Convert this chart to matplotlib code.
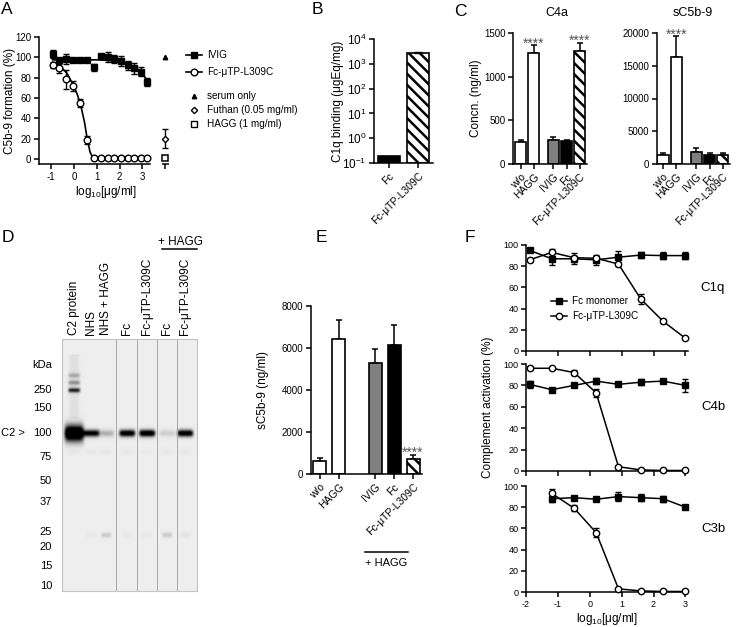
import matplotlib
matplotlib.use('Agg')
import matplotlib.pyplot as plt
from matplotlib.lines import Line2D
import numpy as np

plt.rcParams['font.family'] = ['Liberation Sans', 'DejaVu Sans']
plt.rcParams['font.size'] = 7
plt.rcParams['mathtext.fontset'] = 'custom'
plt.rcParams['mathtext.rm'] = 'Liberation Sans'
plt.rcParams['mathtext.it'] = 'Liberation Sans'
plt.rcParams['axes.unicode_minus'] = False
plt.rcParams['axes.linewidth'] = 1.1
plt.rcParams['xtick.major.width'] = 1.1
plt.rcParams['ytick.major.width'] = 1.1
plt.rcParams['xtick.major.size'] = 3.5
plt.rcParams['ytick.major.size'] = 3.5
plt.rcParams['xtick.major.pad'] = 2
plt.rcParams['ytick.major.pad'] = 2
plt.rcParams['hatch.linewidth'] = 1.8

MU = '\u03bc'
FCMU = 'Fc-' + MU + 'TP-L309C'
LOGX = r'log$_{\mathregular{10}}$[' + MU + 'g/ml]'
LAB = 8.5   # axis label size

# ---------------- data ----------------
# A: C5b-9 formation (%) vs log10 concentration
a_x = [-0.94, -0.64, -0.34, -0.04, 0.26, 0.57, 0.87, 1.17, 1.47, 1.77, 2.07, 2.37, 2.64, 2.93, 3.22]
ivig_pct = [103, 97, 98.5, 97, 97.5, 97, 90, 101, 100, 98, 96, 92, 89, 86, 76]
ivig_err = [4, 2, 5, 1, 2, 1, 3, 2, 5, 4, 5, 4, 5, 4, 4]
fcmu_pct = [92.5, 89, 78.5, 72, 55, 19, 0.7, 0.5, 0.5, 0.5, 0.5, 0.5, 0.5, 0.5, 0.5]
fcmu_err = [3, 4, 9.5, 5, 4, 4, 1, 0, 0, 0, 0, 0, 0, 0, 0]
ivig_fit_x = [-0.94, 1.0, 1.5, 2.0, 2.4, 2.7, 3.0, 3.22]
ivig_fit_y = [97.5, 97.5, 97, 96, 93.5, 90, 84, 77]
fcmu_fit_x = [-0.94, -0.6, -0.3, 0.0, 0.15, 0.3, 0.45, 0.6, 0.7, 0.8, 0.9, 3.22]
fcmu_fit_y = [95, 91, 84, 71, 63, 52, 37, 17, 7, 2, 0, 0]
serum_only = 100
futhan, futhan_err = 20, 9
hagg_ctrl = 1

# B: C1q binding
b_labels = ['Fc', FCMU]
b_vals = [0.19, 2800]
b_err = [0, 150]

# C: C4a and sC5b-9 (ng/ml)
c_labels = ['w/o', 'HAGG', 'IVIG', 'Fc', FCMU]
c4a_vals = [250, 1270, 280, 260, 1290]
c4a_err = [25, 90, 30, 20, 95]
c4a_sig = ['', '****', '', '', '****']
sc5b9_vals = [1400, 16300, 1900, 1400, 1400]
sc5b9_err = [300, 3200, 500, 250, 300]
sc5b9_sig = ['', '****', '', '', '']

# D: western blot of C2
gel_lanes = ['C2 protein', 'NHS', 'NHS + HAGG', 'Fc', FCMU, 'Fc', FCMU]
kda_marks = [250, 150, 100, 75, 50, 37, 25, 20, 15, 10]
kda_rows = [51, 69, 94, 118, 142, 163, 193, 208, 227, 247]   # migration in the gel
band_c2 = [1.0, 0.85, 0.2, 0.9, 0.95, 0.1, 0.9]              # 100 kDa C2 band
band_80 = [0.03, 0.03, 0.03, 0.03, 0.02, 0.03, 0.03]
band_24 = [0.0, 0.03, 0.15, 0.03, 0.03, 0.15, 0.04]
c2_extra_kda = [250, 310, 380]
c2_extra_int = [0.85, 0.35, 0.25]

# E: sC5b-9 (ng/ml)
e_labels = ['w/o', 'HAGG', 'IVIG', 'Fc', FCMU]
e_vals = [620, 6450, 5280, 6150, 720]
e_err = [130, 870, 650, 930, 200]
e_sig = ['', '', '', '', '****']

# F: complement activation (%)
f_x = [-1.89, -1.19, -0.49, 0.2, 0.9, 1.6, 2.3, 3.0]
c1q_fc = [95, 87, 87, 86, 88.5, 90.5, 90, 90]
c1q_fc_err = [1, 6, 5, 5, 6, 3, 3, 3]
c1q_mu = [86, 93, 88, 87.5, 82, 49, 28, 12]
c1q_mu_err = [2, 3, 2, 2, 2, 5, 2, 1]
c4b_fc = [81, 76, 80, 84, 81, 83, 84, 80]
c4b_fc_err = [3, 1, 1, 3, 2, 3, 2, 6]
c4b_mu = [96, 96, 92, 73, 4, 1, 0.5, 0.5]
c4b_mu_err = [2, 1, 2, 4, 1, 0, 0, 0]
c3b_x = f_x[1:]
c3b_fc = [88, 89, 87.5, 90, 89, 88, 80]
c3b_fc_err = [3, 1, 1, 4, 3, 3, 1]
c3b_mu = [93, 79, 56, 3, 1, 0.5, 0.5]
c3b_mu_err = [4, 3, 4, 1, 0, 0, 0]

# ---------------- layout helpers ----------------
W, H = 744, 627
fig = plt.figure(figsize=(W / 100, H / 100), dpi=100)


def box(x0, y0, x1, y1):
    return fig.add_axes([x0 / W, 1 - y1 / H, (x1 - x0) / W, (y1 - y0) / H])


def ftext(x, y, s, **kw):
    return fig.text(x / W, 1 - y / H, s, **kw)


def fline(x0, x1, y, lw=1.1):
    fig.add_artist(Line2D([x0 / W, x1 / W], [1 - y / H] * 2, color='k', lw=lw))


def clean(ax):
    ax.spines['top'].set_visible(False)
    ax.spines['right'].set_visible(False)


for letter, x, y in [('A', 7, 10), ('B', 317, 10), ('C', 460, 11),
                     ('D', 8, 237), ('E', 321, 237), ('F', 470, 237)]:
    ftext(x, y, letter, fontsize=12.5, ha='center', va='center')

# ---------------- A ----------------
ax = box(39, 37, 172, 164)
clean(ax)
ax.plot(ivig_fit_x, ivig_fit_y, color='k', lw=1.2, zorder=2)
ax.plot(fcmu_fit_x, fcmu_fit_y, color='k', lw=1.2, zorder=2)
ax.errorbar(a_x, ivig_pct, yerr=ivig_err, fmt='s', color='k', ms=4.2,
            capsize=2, elinewidth=1, capthick=1, zorder=3)
ax.errorbar(a_x, fcmu_pct, yerr=fcmu_err, fmt='o', color='k', mfc='white',
            mec='k', mew=1, ms=4.8, capsize=2, elinewidth=1, capthick=1, zorder=4)
ax.plot([4], [serum_only], '^', color='k', ms=3.2, clip_on=False)
ax.errorbar([4], [futhan], yerr=[futhan_err], fmt='D', color='k', mfc='white',
            mew=1, ms=3.2, capsize=2.5, elinewidth=1, capthick=1)
ax.plot([4], [hagg_ctrl], 's', color='k', mfc='white', mew=1.1, ms=5)
ax.set_xlim(-1.54, 4.3)
ax.set_ylim(-5, 120)
ax.spines['bottom'].set_bounds(-1.54, 3.35)
ax.plot([3.85, 4.15], [-5, -5], color='k', lw=1.1, clip_on=False,
        solid_capstyle='butt')
ax.set_xticks([-1, 0, 1, 2, 3, 4], ['-1', '0', '1', '2', '3', ''])
ax.set_yticks(range(0, 121, 20))
ax.set_ylabel('C5b-9 formation (%)', fontsize=LAB)
ax.yaxis.set_label_coords((16 - 39) / 133, 0.5)
ax.set_xlabel(LOGX, fontsize=LAB, labelpad=2)

h1 = [Line2D([], [], color='k', marker='s', ms=4.2, lw=1.2),
      Line2D([], [], color='k', marker='o', ms=4.8, mfc='white', lw=1.2)]
leg1 = ax.legend(h1, ['IVIG', FCMU], loc='upper left', frameon=False,
                 bbox_to_anchor=(181 / W, 1 - 45 / H), bbox_transform=fig.transFigure,
                 handlelength=1.6, handletextpad=0.5, labelspacing=0.7,
                 borderpad=0, fontsize=7.2)
ax.add_artist(leg1)
h2 = [Line2D([], [], color='k', marker='^', ms=3.2, lw=0),
      Line2D([], [], color='k', marker='D', ms=3.2, mfc='white', lw=0),
      Line2D([], [], color='k', marker='s', ms=5, mfc='white', lw=0)]
ax.legend(h2, ['serum only', 'Futhan (0.05 mg/ml)', 'HAGG (1 mg/ml)'],
          loc='upper left', frameon=False,
          bbox_to_anchor=(181 / W, 1 - 86 / H), bbox_transform=fig.transFigure,
          handlelength=1.6, handletextpad=0.5, labelspacing=0.4,
          borderpad=0, fontsize=7.2)

# ---------------- B ----------------
ax = box(374, 39, 433, 163)
clean(ax)
ax.set_yscale('log')
ax.bar([0, 1], [v - 0.1 for v in b_vals], bottom=0.1, width=0.75,
       color=['k', 'white'], edgecolor='k', lw=1.2, hatch=['', '\\\\\\'])
ax.errorbar([1], [b_vals[1]], yerr=[[0], [b_err[1]]], fmt='none', ecolor='k',
            capsize=3, elinewidth=1, capthick=1)
ax.set_ylim(0.1, 1e4)
ax.set_xlim(-0.5, 1.5)
ax.minorticks_off()
ax.set_yticks([0.1, 1, 10, 100, 1000, 10000])
ax.tick_params(axis='y', labelsize=8.5)
ax.tick_params(axis='x', labelsize=7.5)
ax.set_xticks([0, 1], b_labels, rotation=45, ha='right', rotation_mode='anchor')
ax.set_ylabel('C1q binding (' + MU + 'gEq/mg)', fontsize=LAB)
ax.yaxis.set_label_coords((344 - 374) / 59, 0.5)


# ---------------- bar helper ----------------
def bar_panel(ax, pos, vals, err, sig, labels, width, colors, hatches):
    clean(ax)
    ax.bar(pos, vals, width=width, color=colors, edgecolor='k', lw=1.2,
           hatch=hatches, zorder=2)
    ax.errorbar(pos, vals, yerr=[[0] * len(err), err], fmt='none', ecolor='k',
                capsize=2.5, elinewidth=1.1, capthick=1.1, zorder=1)
    for p, v, e, s in zip(pos, vals, err, sig):
        if s:
            ax.annotate(s, (p, v + e), xytext=(0, -1.5), textcoords='offset points',
                        ha='center', va='baseline', color='#555555',
                        fontsize=10, annotation_clip=False)
    ax.set_xticks(pos, labels, rotation=45, ha='right', rotation_mode='anchor')
    ax.tick_params(axis='x', length=3.5, labelsize=7.5)


bar_colors = ['white', 'white', '#7f7f7f', 'black', 'white']
bar_hatch = ['', '', '', '', '\\\\\\']

# ---------------- C ----------------
c_pos = [0, 1, 2.5, 3.5, 4.5]
ax = box(513, 33, 587, 164)
bar_panel(ax, c_pos, c4a_vals, c4a_err, c4a_sig, c_labels, 0.85,
          bar_colors, bar_hatch)
ax.set_xlim(-0.57, 5.04)
ax.set_ylim(0, 1500)
ax.set_yticks([0, 500, 1000, 1500])
ax.set_ylabel('Concn. (ng/ml)', fontsize=LAB)
ax.yaxis.set_label_coords((482 - 513) / 74, 0.5)
ftext(557, 13, 'C4a', ha='center', va='center', fontsize=9)

ax = box(657, 33, 730, 164)
bar_panel(ax, c_pos, sc5b9_vals, sc5b9_err, sc5b9_sig, c_labels, 0.85,
          bar_colors, bar_hatch)
ax.set_xlim(-0.45, 5.04)
ax.set_ylim(0, 20000)
ax.set_yticks([0, 5000, 10000, 15000, 20000])
ftext(693, 13, 'sC5b-9', ha='center', va='center', fontsize=9)

# ---------------- D (gel) ----------------
gw, gh = 135, 252
lane_cx = [12, 29, 44, 65, 85, 105, 123]
lane_sep = [54, 75, 95, 115]
logk = np.log10(kda_marks)
slope = (kda_rows[1] - kda_rows[0]) / (logk[1] - logk[0])


def kda_row(k):
    if k > kda_marks[0]:
        return kda_rows[0] + slope * (np.log10(k) - logk[0])
    return np.interp(-np.log10(k), -logk, kda_rows)


yy, xx = np.mgrid[0:gh:0.5, 0:gw:0.5]
dark = np.zeros_like(yy)


def band(cx, row, inten, half_w=7.5, sy=2.3):
    hx = np.exp(-((xx - cx) / half_w) ** 6)
    vy = np.exp(-0.5 * ((yy - row) / sy) ** 2)
    return inten * hx * vy


for i, cx in enumerate(lane_cx):
    if i == 0:
        dark += 1.6 * band(cx, kda_row(100), band_c2[i], half_w=9.5, sy=5.5)
        for k, it in zip(c2_extra_kda, c2_extra_int):
            dark += band(cx, kda_row(k), it, half_w=6, sy=1.6)
        dark += 0.06 * np.exp(-((xx - cx) / 5) ** 4) * (yy > 15) * (yy < 80)
    else:
        dark += 1.3 * band(cx, kda_row(100), band_c2[i], half_w=8, sy=2.4)
    dark += band(cx, kda_row(80), band_80[i], half_w=6, sy=1.5)
    dark += band(cx, kda_row(24), band_24[i], half_w=5, sy=1.8)
img = np.clip(0.93 * (1 - np.clip(dark, 0, 1)), 0, 1)

ax = box(62, 339, 197, 591)
ax.imshow(img, cmap='gray', vmin=0, vmax=1, extent=(0, gw, gh, 0),
          aspect='auto', interpolation='bilinear')
for s in lane_sep:
    ax.axvline(s, color='#a8a8a8', lw=0.7)
ax.set_xlim(0, gw)
ax.set_ylim(gh, 0)
ax.set_xticks([])
ax.set_yticks([])
for sp in ax.spines.values():
    sp.set_color('#c4c4c4')
    sp.set_linewidth(0.8)
for cx, lab in zip(lane_cx, gel_lanes):
    ax.text(cx, -4, lab, rotation=90, ha='center', va='bottom', fontsize=8.5,
            clip_on=False)
for k, r in zip(kda_marks, kda_rows):
    ax.text(-10, r, str(k), ha='right', va='center', fontsize=8, clip_on=False)
ax.text(-10, 26, 'kDa', ha='right', va='center', fontsize=8, clip_on=False)
ax.text(-61, kda_row(100), 'C2 >', ha='left', va='center', fontsize=8,
        clip_on=False)
ftext(181, 242, '+ HAGG', ha='center', va='center', fontsize=8.5)
fline(162, 197, 249)

# ---------------- E ----------------
e_pos = [0, 1, 2.9, 3.9, 4.9]
ax = box(311, 306, 422, 474)
bar_panel(ax, e_pos, e_vals, e_err, e_sig, e_labels, 0.68,
          bar_colors, bar_hatch)
ax.set_xlim(-0.47, 5.37)
ax.set_ylim(0, 8000)
ax.set_yticks(range(0, 8001, 2000))
ax.set_ylabel('sC5b-9 (ng/ml)', fontsize=LAB)
ax.yaxis.set_label_coords((269 - 311) / 111, 0.5)
fline(365, 408, 552)
ftext(386, 563, '+ HAGG', ha='center', va='center', fontsize=8)

# ---------------- F ----------------
f_panels = [
    ('C1q', f_x, c1q_fc, c1q_fc_err, c1q_mu, c1q_mu_err, (245, 351)),
    ('C4b', f_x, c4b_fc, c4b_fc_err, c4b_mu, c4b_mu_err, (364, 471)),
    ('C3b', c3b_x, c3b_fc, c3b_fc_err, c3b_mu, c3b_mu_err, (486, 592)),
]
for i, (name, fx, fc, fce, mu, mue, (y0, y1)) in enumerate(f_panels):
    ax = box(526, y0, 688, y1)
    clean(ax)
    ax.errorbar(fx, fc, yerr=fce, fmt='-s', color='k', ms=3.8, lw=1.1,
                capsize=2, elinewidth=1, capthick=1, clip_on=False, zorder=3)
    ax.errorbar(fx, mu, yerr=mue, fmt='-o', color='k', mfc='white', mec='k',
                mew=1, ms=4.6, lw=1.1, capsize=2, elinewidth=1, capthick=1,
                clip_on=False, zorder=4)
    ax.set_xlim(-2, 3.08)
    ax.set_ylim(0, 100)
    ax.set_yticks(range(0, 101, 20))
    ax.set_xticks(range(-2, 4))
    ax.tick_params(labelsize=6.5)
    if i < 2:
        ax.set_xticklabels([])
    else:
        ax.set_xlabel(LOGX, fontsize=LAB, labelpad=2)
    ftext(713, (y0 + y1) / 2 - 10, name, ha='center', va='center', fontsize=9.5)
    if i == 0:
        hf = [Line2D([], [], color='k', marker='s', ms=3.8, lw=1.1),
              Line2D([], [], color='k', marker='o', ms=4.6, mfc='white', lw=1.1)]
        ax.legend(hf, ['Fc monomer', FCMU], loc='upper left', frameon=False,
                  bbox_to_anchor=(546 / W, 1 - 291 / H),
                  bbox_transform=fig.transFigure, handlelength=1.6,
                  handletextpad=0.5, labelspacing=0.5, borderpad=0,
                  fontsize=7.2)
ftext(488, 407, 'Complement activation (%)', rotation=90, ha='center',
      va='center', fontsize=LAB)

fig.savefig('out.png', dpi=100)
